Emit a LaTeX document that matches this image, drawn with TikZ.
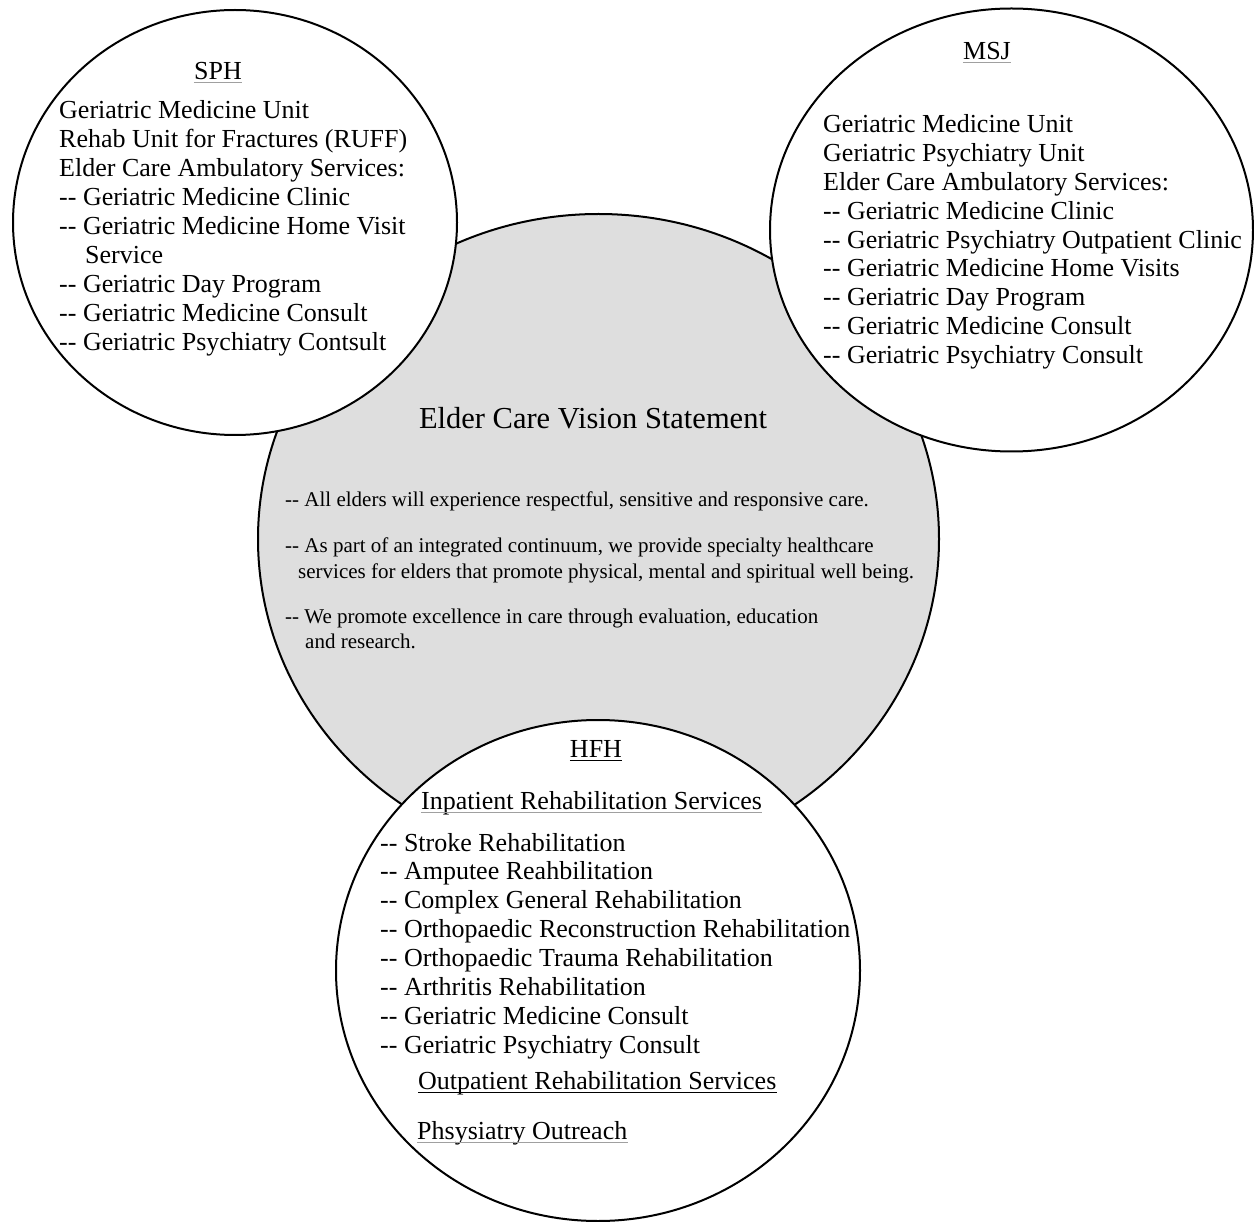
\documentclass[tikz,border=0pt]{standalone}
\usepackage{fontspec}
\setmainfont{Liberation Serif}
\usetikzlibrary{shapes.geometric}
\definecolor{visiongray}{RGB}{222,222,222}
\definecolor{ulgray}{RGB}{160,160,160}
\newcommand{\dsh}{-{}-\ }
\begin{document}
\begin{tikzpicture}[x=1pt,y=-1pt,
  site/.style={draw=black, line width=2pt, ellipse, inner sep=0pt, fill=white},
  big/.style={font=\fontsize{26}{29}\selectfont, inner sep=0pt, anchor=base west},
  head/.style={font=\fontsize{26}{29}\selectfont, inner sep=0pt, anchor=base},
  small/.style={font=\fontsize{21}{26}\selectfont, inner sep=0pt, anchor=base west},
  title/.style={font=\fontsize{30.5}{34}\selectfont, inner sep=0pt, anchor=base},
  ulthin/.style={draw=ulgray, line width=1pt},
  ulthick/.style={draw=black, line width=1.6pt}]
\useasboundingbox (0,0) rectangle (1254,1222);

% circles
\node[site, fill=visiongray, minimum width=681pt, minimum height=650pt] (vision) at (598.5,539) {};
\node[site, minimum width=444pt, minimum height=425pt] (sph) at (235,222.5) {};
\node[site, minimum width=483pt, minimum height=443pt] (msj) at (1011.5,230) {};
\node[site, minimum width=524pt, minimum height=501pt] (hfh) at (598,970.5) {};

% SPH
\node[head] (sphT) at (218,80) {SPH};
\draw[ulthin] ([yshift=-3pt]sphT.base west) -- ([yshift=-3pt]sphT.base east);
\node[big] (sph1) at (59,118.5) {Geriatric Medicine Unit};
\node[big] (sph2) at (59,147.5) {Rehab Unit for Fractures (RUFF)};
\node[big] (sph3) at (59,176.5) {Elder Care Ambulatory Services:};
\node[big] (sph4) at (59,205.5) {\dsh Geriatric Medicine Clinic};
\node[big] (sph5) at (59,234.5) {\dsh Geriatric Medicine Home Visit};
\node[big] (sph6) at (85,263.5) {Service};
\node[big] (sph7) at (59,292.5) {\dsh Geriatric Day Program};
\node[big] (sph8) at (59,321.5) {\dsh Geriatric Medicine Consult};
\node[big] (sph9) at (59,350.5) {\dsh Geriatric Psychiatry Contsult};

% MSJ
\node[head] (msjT) at (987,60) {MSJ};
\draw[ulthin] ([yshift=-3pt]msjT.base west) -- ([yshift=-3pt]msjT.base east);
\node[big] (msj1) at (823,133) {Geriatric Medicine Unit};
\node[big] (msj2) at (823,161.8) {Geriatric Psychiatry Unit};
\node[big] (msj3) at (823,190.6) {Elder Care Ambulatory Services:};
\node[big] (msj4) at (823,219.4) {\dsh Geriatric Medicine Clinic};
\node[big] (msj5) at (823,248.2) {\dsh Geriatric Psychiatry Outpatient Clinic};
\node[big] (msj6) at (823,277) {\dsh Geriatric Medicine Home Visits};
\node[big] (msj7) at (823,305.8) {\dsh Geriatric Day Program};
\node[big] (msj8) at (823,334.6) {\dsh Geriatric Medicine Consult};
\node[big] (msj9) at (823,363.4) {\dsh Geriatric Psychiatry Consult};

% Vision
\node[title] (visT) at (593,429) {Elder Care Vision Statement};
\node[small] (vis1) at (285,507) {\dsh All elders will experience respectful, sensitive and responsive care.};
\node[small] (vis2) at (285,552) {\dsh As part of an integrated continuum, we provide specialty healthcare};
\node[small] (vis3) at (298,578) {services for elders that promote physical, mental and spiritual well being.};
\node[small] (vis4) at (285,623) {\dsh We promote excellence in care through evaluation, education};
\node[small] (vis5) at (305,648) {and research.};

% HFH
\node[head] (hfhT) at (596,757) {HFH};
\draw[ulthick] ([yshift=-3.5pt]hfhT.base west) -- ([yshift=-3.5pt]hfhT.base east);
\node[big] (inp) at (421,809) {Inpatient Rehabilitation Services};
\draw[ulthin] ([yshift=-3pt]inp.base west) -- ([yshift=-3pt]inp.base east);
\node[big] (hfh1) at (380,851) {\dsh Stroke Rehabilitation};
\node[big] (hfh2) at (380,879.9) {\dsh Amputee Reahbilitation};
\node[big] (hfh3) at (380,908.8) {\dsh Complex General Rehabilitation};
\node[big] (hfh4) at (380,937.7) {\dsh Orthopaedic Reconstruction Rehabilitation};
\node[big] (hfh5) at (380,966.6) {\dsh Orthopaedic Trauma Rehabilitation};
\node[big] (hfh6) at (380,995.5) {\dsh Arthritis Rehabilitation};
\node[big] (hfh7) at (380,1024.4) {\dsh Geriatric Medicine Consult};
\node[big] (hfh8) at (380,1053.3) {\dsh Geriatric Psychiatry Consult};
\node[big] (outp) at (418,1089) {Outpatient Rehabilitation Services};
\draw[ulthick] ([yshift=-3.5pt]outp.base west) -- ([yshift=-3.5pt]outp.base east);
\node[big] (phys) at (417,1139) {Phsysiatry Outreach};
\draw[ulthin] ([yshift=-3pt]phys.base west) -- ([yshift=-3pt]phys.base east);
\end{tikzpicture}
\end{document}
